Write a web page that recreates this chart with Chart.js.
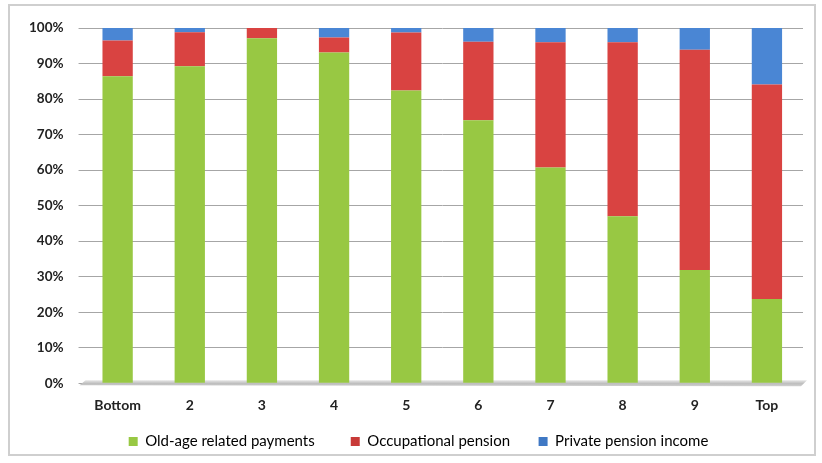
<!DOCTYPE html>
<html>
<head>
<meta charset="utf-8">
<script src="https://cdn.jsdelivr.net/npm/chart.js@4"></script>
<style>
  html, body { margin: 0; padding: 0; background: #fff; }
  #wrap { position: relative; width: 822px; height: 463px; }
</style>
</head>
<body>
<div id="wrap"><canvas id="pensionChart"></canvas></div>
<script>
// ─── DATA ─────────────────────────────────────────────────────────────────────
const deciles = ['Bottom', '2', '3', '4', '5', '6', '7', '8', '9', 'Top'];
const oldAge       = [86.4, 89.2, 97.1, 93.1, 82.4, 74.0, 60.7, 47.0, 31.9, 23.7];
const occupational = [10.1,  9.6,  2.9,  4.2, 16.3, 22.1, 35.3, 49.0, 62.0, 60.4];
const privateInc   = [ 3.5,  1.2,  0.0,  2.7,  1.3,  3.9,  4.0,  4.0,  6.1, 15.9];
const yTicks = [0, 10, 20, 30, 40, 50, 60, 70, 80, 90, 100];

// ─── STYLE HELPERS ────────────────────────────────────────────────────────────
// horizontal shading across each bar, darker at the edges like the old Excel look
function barShade(base, dark) {
    return ctx => {
        const el = ctx.element;
        if (!el || el.x === undefined || !el.width) return base;
        const c = ctx.chart.ctx;
        const x0 = el.x - el.width / 2;
        const g = c.createLinearGradient(x0, 0, x0 + el.width, 0);
        g.addColorStop(0, dark);
        g.addColorStop(0.12, base);
        g.addColorStop(0.85, base);
        g.addColorStop(1, dark);
        return g;
    };
}

// frame round the whole picture + grey floor under the bars
const framePlugin = {
    id: 'frame',
    afterLayout(chart) {
        // legend sits a little right of centre in the original
        if (chart.legend) { chart.legend.left += 10; chart.legend.right += 10; }
    },
    beforeDraw(chart) {
        const c = chart.ctx;
        c.save();
        c.strokeStyle = '#cfcfcf';
        c.lineWidth = 2;
        c.strokeRect(9, 5, 806, 450);
        c.restore();
    },
    beforeDatasetsDraw(chart) {
        const { ctx: c, chartArea: a } = chart;
        const y0 = chart.scales.y.getPixelForValue(0);
        c.save();
        const g = c.createLinearGradient(0, y0 - 3, 0, y0 + 4);
        g.addColorStop(0, '#e6e6e6');
        g.addColorStop(0.5, '#bdbdbd');
        g.addColorStop(1, '#d9d9d9');
        c.fillStyle = g;
        c.beginPath();
        c.moveTo(a.left - 2, y0 + 2);
        c.lineTo(a.left + 4, y0 - 3);
        c.lineTo(a.right + 4, y0 - 3);
        c.lineTo(a.right - 2, y0 + 3);
        c.closePath();
        c.fill();
        c.restore();
    }
};

// ─── CHART ────────────────────────────────────────────────────────────────────
const font = 'Lato, "Open Sans", sans-serif';
// blank space after each legend entry, so the items sit as far apart as in the original
const legendGap = ['\u2003\u2003\u2002', '\u2003\u2003', ''];

new Chart(document.getElementById('pensionChart'), {
    type: 'bar',
    data: {
        labels: deciles,
        datasets: [
            { label: 'Old-age related payments', data: oldAge,
              backgroundColor: barShade('#98c843', '#6f9a2c'), legendColor: '#98c843' },
            { label: 'Occupational pension', data: occupational,
              backgroundColor: barShade('#d94341', '#a02e2c'), legendColor: '#c83a38' },
            { label: 'Private pension income', data: privateInc,
              backgroundColor: barShade('#4a86d4', '#2c5a96'), legendColor: '#3f78c4' }
        ]
    },
    options: {
        responsive: true,
        maintainAspectRatio: false,
        animation: false,
        layout: { padding: { top: 28, left: 14, right: 19, bottom: 4 } },
        datasets: { bar: { categoryPercentage: 1, barPercentage: 0.42 } },
        plugins: {
            legend: {
                position: 'bottom',
                labels: {
                    color: '#333',
                    font: { family: font, size: 15 },
                    boxWidth: 9, boxHeight: 9,
                    padding: 6,
                    generateLabels: chart => chart.data.datasets.map((ds, i) => ({
                        text: ds.label + legendGap[i],
                        fillStyle: ds.legendColor,
                        strokeStyle: ds.legendColor,
                        lineWidth: 0,
                        datasetIndex: i
                    }))
                }
            },
            tooltip: { enabled: false }
        },
        scales: {
            x: {
                stacked: true,
                grid: { display: false, drawTicks: false },
                border: { display: false },
                ticks: { color: '#222', padding: 14, font: { family: font, size: 14, weight: 'bold' } }
            },
            y: {
                stacked: true,
                min: 0, max: 100,
                afterBuildTicks: axis => { axis.ticks = yTicks.map(v => ({ value: v })); },
                grid: { color: '#a6a6a6', lineWidth: 1, tickLength: 3, drawTicks: true },
                border: { display: false },
                ticks: { color: '#222', padding: 15, font: { family: font, size: 13.5, weight: 'bold' },
                         callback: v => v + '%' }
            }
        }
    },
    plugins: [framePlugin]
});
</script>
</body>
</html>
